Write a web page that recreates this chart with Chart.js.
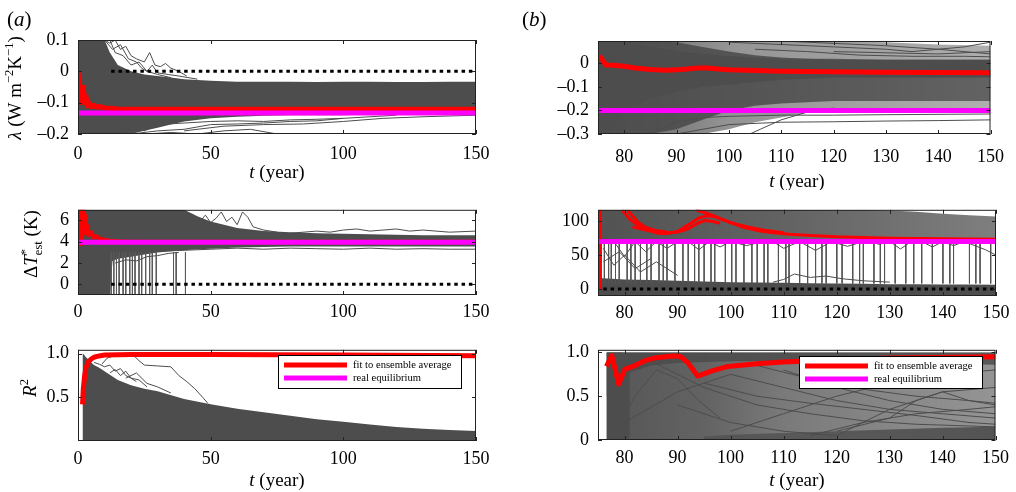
<!DOCTYPE html>
<html>
<head>
<meta charset="utf-8">
<script src="https://cdn.jsdelivr.net/npm/chart.js@4.4.1/dist/chart.umd.min.js"></script>
<style>
  html, body { margin: 0; padding: 0; background: #fff; }
  #fig { position: relative; width: 1016px; height: 492px; overflow: hidden; }
  #fig canvas { position: absolute; }
</style>
</head>
<body>
<div id="fig">
  <canvas id="a1" width="500" height="190" style="left:0;top:0"></canvas>
  <canvas id="b1" width="516" height="190" style="left:500px;top:0"></canvas>
  <canvas id="a2" width="500" height="140" style="left:0;top:190px"></canvas>
  <canvas id="b2" width="516" height="140" style="left:500px;top:190px"></canvas>
  <canvas id="a3" width="500" height="162" style="left:0;top:330px"></canvas>
  <canvas id="b3" width="516" height="162" style="left:500px;top:330px"></canvas>
</div>
<script>
const SERIF = "'Liberation Serif', 'Times New Roman', Times, serif";
const GREY = '#4d4d4d';
const RED = '#ff0000';
const MAGENTA = '#ff00ff';
const NONE = 'rgba(0,0,0,0)';

// tick labels
const xTicksA = [0, 50, 100, 150];
const xTicksB = [80, 90, 100, 110, 120, 130, 140, 150];
const lamTicksA = [-0.2, -0.1, 0, 0.1];
const lamTicksB = [-0.3, -0.2, -0.1, 0];
const tstTicksA = [0, 2, 4, 6];
const tstTicksB = [0, 50, 100];
const r2TicksA = [0.5, 1.0];
const r2TicksB = [0, 0.5, 1.0];
const legendLabels = ['fit to ensemble average', 'real equilibrium'];

// ---- (a) lambda
const lamYearsA = [0, 1, 2, 3, 4, 5, 6, 8, 10, 12, 15, 20, 25, 30, 35, 40, 50, 60, 70, 80, 90, 100, 110, 120, 130, 140, 150];
const lamHighA = [0.1, 0.1, 0.1, 0.1, 0.1, 0.1, 0.1, 0.1, 0.1, 0.06, 0.02, 0, -0.01, -0.015, -0.02, -0.025, -0.03, -0.033, -0.033, -0.033, -0.034, -0.033, -0.033, -0.034, -0.034, -0.033, -0.033];
const lamLowA = [-0.2, -0.2, -0.2, -0.2, -0.2, -0.2, -0.2, -0.2, -0.2, -0.2, -0.2, -0.2, -0.19, -0.18, -0.17, -0.16, -0.15, -0.145, -0.142, -0.14, -0.14, -0.14, -0.138, -0.136, -0.135, -0.134, -0.133];
const lamStrayA = [
  [[10, 12, 14, 16, 18, 20, 22, 25, 27, 29, 31, 33, 35, 38, 41], [0.1, 0.09, 0.1, 0.07, 0.08, 0.05, 0.04, 0.03, 0.06, 0.02, 0.015, 0.025, 0.01, 0, -0.015]],
  [[10, 13, 16, 19, 22, 24, 26, 28, 30, 34, 38, 45], [0.1, 0.07, 0.085, 0.04, 0.03, 0.01, 0, 0.02, -0.005, -0.01, -0.015, -0.025]],
  [[12, 14, 17, 20, 23, 26, 30, 35], [0.1, 0.06, 0.05, 0.02, 0.03, 0.0, -0.01, -0.02]],
  [[15, 20, 25, 30, 40, 50, 60, 70, 80, 90, 100, 110, 120], [-0.2, -0.18, -0.19, -0.17, -0.165, -0.16, -0.158, -0.16, -0.155, -0.153, -0.15, -0.145, -0.14]],
  [[20, 30, 40, 50, 60, 70, 80, 90, 100], [-0.2, -0.19, -0.185, -0.17, -0.168, -0.165, -0.16, -0.158, -0.15]],
  [[25, 35, 45, 55, 65, 75], [-0.2, -0.195, -0.2, -0.19, -0.185, -0.2]],
  [[40, 55, 70, 85, 100, 115, 130, 150], [-0.19, -0.175, -0.17, -0.168, -0.16, -0.15, -0.145, -0.14]]
];
const lamRedYearsA = [0, 0.5, 1, 1.5, 2, 2.5, 3, 3.5, 4, 5, 6, 7, 8, 10, 12, 15, 20, 30, 150];
const lamRedA = [0, -0.05, -0.1, -0.07, -0.05, -0.1, -0.08, -0.11, -0.1, -0.113, -0.108, -0.115, -0.112, -0.117, -0.118, -0.12, -0.121, -0.121, -0.121];
const lamEquilA = [-0.133, -0.133];

// ---- (b) lambda
const lamYearsB = [75, 77, 80, 85, 90, 95, 100, 105, 110, 115, 120, 130, 140, 150];
const lamOuterHighB = [0.095, 0.095, 0.095, 0.095, 0.095, 0.095, 0.095, 0.095, 0.095, 0.095, 0.095, 0.09, 0.08, 0.075];
const lamOuterLowB = [-0.3, -0.3, -0.3, -0.3, -0.3, -0.3, -0.28, -0.25, -0.23, -0.21, -0.2, -0.19, -0.19, -0.19];
const lamMidHighB = [0.095, 0.095, 0.095, 0.095, 0.09, 0.07, 0.05, 0.035, 0.025, 0.02, 0.02, 0.015, 0.015, 0.015];
const lamMidLowB = [-0.3, -0.3, -0.3, -0.3, -0.28, -0.24, -0.2, -0.18, -0.17, -0.165, -0.16, -0.16, -0.16, -0.16];
const lamCoreHighB = [0.095, 0.095, 0.09, 0.07, 0.05, 0.04, 0.03, 0.025, 0.02, 0.02, 0.015, 0.015, 0.015, 0.015];
const lamCoreLowB = [-0.3, -0.3, -0.2, -0.15, -0.12, -0.1, -0.09, -0.08, -0.07, -0.065, -0.06, -0.06, -0.06, -0.06];
const lamStrayB = [
  [[90, 95, 100, 110, 120, 130, 140, 150], [-0.3, -0.28, -0.26, -0.25, -0.248, -0.245, -0.243, -0.24]],
  [[85, 90, 95, 100, 110, 120, 130, 150], [-0.3, -0.25, -0.23, -0.225, -0.22, -0.22, -0.218, -0.215]],
  [[104, 106, 108, 110, 113, 116, 120], [-0.3, -0.28, -0.26, -0.24, -0.22, -0.2, -0.19]],
  [[100, 110, 120, 130, 135, 140, 145, 150], [0.09, 0.08, 0.07, 0.06, 0.05, 0.06, 0.07, 0.09]],
  [[110, 120, 130, 140, 150], [0.095, 0.085, 0.075, 0.06, 0.04]],
  [[120, 130, 140, 150], [0.05, 0.045, 0.04, 0.05]],
  [[105, 115, 125, 135, 145, 150], [0.06, 0.05, 0.035, 0.03, 0.03, 0.028]]
];
const lamRedYearsB = [75, 75.5, 76.5, 78, 80, 82, 85, 88, 91, 94, 96, 98, 100, 105, 110, 120, 130, 140, 150];
const lamRedB = [0.028, 0.025, -0.007, -0.008, -0.012, -0.02, -0.026, -0.029, -0.026, -0.02, -0.02, -0.024, -0.027, -0.03, -0.033, -0.036, -0.038, -0.039, -0.04];
const lamEquilB = [-0.2, -0.2];

// ---- (a) estimated equilibrium warming
const tstYearsA = [0, 2, 4, 6, 8, 10, 12, 13, 15, 20, 25, 30, 35, 40, 45, 50, 60, 70, 80, 90, 100, 110, 120, 130, 140, 150];
const tstHighA = [7, 7, 7, 7, 7, 7, 7, 7, 7, 7, 7, 7, 7, 7, 6.4, 5.9, 5.3, 5.0, 4.9, 4.8, 4.75, 4.7, 4.65, 4.6, 4.6, 4.6];
const tstLowA = [-1, -1, -1, -1, -1, -1, -1, 2.2, 2.4, 2.6, 2.8, 3.0, 3.1, 3.2, 3.3, 3.35, 3.45, 3.5, 3.55, 3.55, 3.55, 3.55, 3.55, 3.55, 3.55, 3.55];
const tstDropYearsA = [12.5, 13.5, 14.5, 15.5, 17, 18, 19.5, 20.5, 21.5, 23, 24, 25.5, 27, 28, 29.5, 36, 37, 40.5];
const tstStrayA = [
  [[36, 40, 43, 46, 48, 50, 52, 54, 56, 58, 60, 62, 64, 66, 70, 75], [5.5, 6.2, 6.6, 5.9, 6.5, 5.8, 6.2, 6.8, 5.9, 6.3, 5.6, 6.8, 6.3, 5.4, 5.1, 4.9]],
  [[80, 90, 95, 100, 105, 110, 115, 120, 125, 130, 140, 150], [4.8, 5.0, 4.9, 5.1, 5.2, 5.0, 5.1, 5.2, 5.0, 5.1, 4.9, 5.0]],
  [[30, 40, 50, 60, 70, 80, 90, 100, 110, 120, 130, 140, 150], [3.1, 3.2, 3.3, 3.4, 3.3, 3.4, 3.35, 3.3, 3.4, 3.3, 3.35, 3.3, 3.3]],
  [[14, 18, 22, 26, 30, 34, 38], [2.0, 2.3, 2.2, 2.6, 2.7, 2.9, 3.0]]
];
const tstRedYearsA = [1, 1.3, 1.6, 2, 2.3, 2.6, 3, 3.5, 4, 5, 6, 7, 8, 10, 12, 15, 20, 40, 150];
const tstRedA = [3.6, 7.5, 4.5, 7.5, 5.2, 6.5, 4.8, 5.5, 4.6, 4.9, 4.4, 4.5, 4.3, 4.2, 4.1, 4.05, 4.0, 4.0, 4.0];
const tstEquilA = [3.95, 3.95];

// ---- (b) estimated equilibrium warming
const tstYearsB = [75.1, 80, 85, 90, 95, 100, 105, 110, 115, 120, 125, 130, 135, 140, 145, 150];
const tstUpHighB = [117, 117, 117, 117, 117, 117, 117, 117, 117, 117, 117, 116, 114, 111, 109, 107];
const tstUpLowB = [72, 72, 72, 72, 72, 72, 72, 72, 72, 72, 72, 72, 72, 72, 72, 72];
const tstBaseHighB = [16, 14, 13, 12, 11, 10, 9.5, 9, 8.5, 8, 7.5, 7, 7, 6.5, 6.5, 6];
const tstBaseLowB = [-9, -9, -9, -9, -9, -9, -9, -9, -9, -9, -9, -9, -9, -9, -9, -9];
const tstDropYearsB = [75.6, 76.2, 77, 77.5, 78.3, 79, 80.5, 81.2, 82, 83, 84.2, 85, 86.5, 87.3, 88, 89.5, 91, 92, 93.2, 94, 95, 96.3, 97, 99, 100.2, 101, 102.5, 104, 105, 106.3, 107, 109, 110.4, 111, 113, 114.5, 116, 117.2, 118, 120, 121, 123, 124.3, 125, 127, 128.2, 129, 131, 133, 134.5, 136, 138, 140, 141.3, 142, 145, 146.2, 147, 149];
const tstStrayB = [
  [[78, 80, 82, 84, 86, 88, 90], [70, 48, 70, 55, 70, 60, 70]],
  [[92, 94, 96, 98, 100, 103, 106], [70, 58, 70, 62, 70, 64, 70]],
  [[108, 110, 113, 116, 119, 122, 125], [70, 60, 70, 57, 70, 63, 70]],
  [[126, 128, 130, 132, 134], [70, 66, 70, 59, 70]],
  [[136, 138, 140, 142, 144, 148, 150], [70, 62, 70, 64, 70, 58, 50]],
  [[108, 110, 112, 115, 118, 121, 125, 130], [10, 14, 22, 17, 19, 15, 12, 10]],
  [[76, 78, 80, 83, 86, 90], [60, 35, 50, 25, 40, 20]],
  [[76, 79, 82, 85], [40, 55, 30, 45]]
];
const tstRedSetsB = [
  [[79.5, 81, 83, 86, 88, 90, 92, 94, 95.5, 97, 99, 102, 106, 111, 115, 120, 130, 140, 150], [117, 103, 92, 83, 82, 85, 95, 105, 108, 107, 101, 92, 85, 81, 79, 77, 75, 74, 73.5]],
  [[81.5, 84, 87, 90, 92, 93.5, 95, 96.5, 98], [92, 87, 82, 84, 89, 96, 101, 100, 97]],
  [[80.5, 81.5, 82.5, 84, 86, 88], [117, 108, 99, 91, 86, 84]],
  [[93.5, 95, 96.5, 98, 100, 103, 106, 110], [117, 113, 109, 104, 98, 92, 87, 83]],
  [[75.4, 75.4], [0, 117]]
];
const tstEquilB = [70, 70];

// ---- (a) R^2
const r2YearsA = [1.7, 2, 2.5, 3, 4, 5, 6, 8, 10, 12, 15, 20, 25, 30, 40, 50, 60, 70, 80, 90, 100, 110, 120, 130, 140, 150];
const r2HighA = [1.0, 1.0, 0.98, 0.96, 0.93, 0.9, 0.87, 0.84, 0.8, 0.76, 0.7, 0.64, 0.6, 0.57, 0.48, 0.42, 0.37, 0.33, 0.29, 0.25, 0.22, 0.19, 0.16, 0.14, 0.125, 0.115];
const r2LowA = [0, 0, 0, 0, 0, 0, 0, 0, 0, 0, 0, 0, 0, 0, 0, 0, 0, 0, 0, 0, 0, 0, 0, 0, 0, 0];
const r2StrayA = [
  [[9, 11, 13, 17, 21, 23, 25, 30, 35, 38, 41, 44, 47, 49], [0.88, 0.95, 0.97, 0.98, 0.98, 0.92, 0.87, 0.86, 0.85, 0.75, 0.68, 0.6, 0.5, 0.43]],
  [[6, 8, 10, 12, 14, 16, 18, 20, 22], [0.9, 0.88, 0.85, 0.87, 0.8, 0.83, 0.75, 0.72, 0.68]],
  [[12, 14, 16, 18, 20, 23, 26], [0.78, 0.82, 0.75, 0.8, 0.72, 0.7, 0.62]],
  [[18, 22, 26, 30, 35], [0.72, 0.78, 0.66, 0.62, 0.55]]
];
const r2RedYearsA = [1.7, 2, 2.5, 3, 4, 5, 6, 8, 10, 20, 50, 100, 150];
const r2RedA = [0.42, 0.6, 0.75, 0.84, 0.91, 0.94, 0.96, 0.975, 0.985, 0.99, 0.99, 0.985, 0.977];

// ---- (b) R^2
const r2YearsB = [76.6, 78, 80, 85, 90, 95, 100, 110, 120, 130, 140, 150];
const r2HighB = [1.0, 1.0, 1.0, 1.0, 1.0, 1.0, 1.0, 1.0, 1.0, 1.0, 1.0, 1.0];
const r2LowB = [0, 0, 0, 0, 0, 0, 0, 0, 0, 0, 0, 0];
const r2CapLowB = [0.5, 0.6, 0.75, 0.85, 0.88, 0.89, 0.9, 0.9, 0.89, 0.88, 0.87, 0.86];
const r2EdgeYearsB = [76.6, 78, 79.5, 81];
const r2EdgeHighB = [1.0, 1.0, 1.0, 0.98];
const r2EdgeLowB = [0, 0, 0, 0.02];
const r2FloorYearsB = [95, 100, 110, 120, 130, 140, 150];
const r2FloorHighB = [0.04, 0.06, 0.08, 0.1, 0.12, 0.14, 0.15];
const r2FloorLowB = [0, 0, 0, 0, 0, 0, 0];
const r2StrayB = [
  [[80, 90, 100, 110, 120, 130, 140, 150], [0.2, 0.55, 0.75, 0.6, 0.45, 0.35, 0.3, 0.25]],
  [[85, 95, 105, 115, 125, 135, 150], [0.9, 0.6, 0.4, 0.3, 0.22, 0.18, 0.15]],
  [[100, 110, 120, 130, 140, 150], [0.1, 0.3, 0.5, 0.65, 0.75, 0.8]],
  [[90, 100, 110, 120, 130, 140, 150], [0.4, 0.2, 0.1, 0.05, 0.35, 0.55, 0.6]],
  [[110, 120, 130, 140, 150], [0.8, 0.6, 0.45, 0.35, 0.3]],
  [[120, 130, 135, 140, 145, 150], [0.1, 0.25, 0.45, 0.55, 0.45, 0.4]],
  [[95, 105, 115, 125, 135, 145, 150], [0.65, 0.5, 0.42, 0.35, 0.28, 0.2, 0.18]],
  [[78, 82, 86, 90, 94, 98], [0.05, 0.5, 0.8, 0.7, 0.45, 0.25]],
  [[105, 115, 125, 135, 145, 150], [0.85, 0.7, 0.58, 0.5, 0.45, 0.42]],
  [[115, 125, 135, 145, 150], [0.05, 0.2, 0.3, 0.35, 0.38]]
];
const r2RedYearsB = [76.6, 77.6, 78.9, 80.1, 82, 84, 86, 89, 90.5, 92, 93.8, 96.5, 99.5, 105, 110, 120, 130, 150];
const r2RedB = [0.84, 0.965, 0.64, 0.81, 0.85, 0.91, 0.94, 0.96, 0.955, 0.88, 0.73, 0.79, 0.84, 0.87, 0.89, 0.915, 0.935, 0.95];

// ---------- helpers ----------
function pts(xs, ys) { return xs.map((x, i) => ({ x: x, y: ys[i] })); }
function drops(xs, top, bottom) {
  const out = [];
  xs.forEach(x => { out.push({ x: x, y: top }, { x: x, y: bottom }, { x: x, y: null }); });
  return out;
}
// horizontal grey shade that fades along the time axis: stops = [[year, alpha], ...]
function shade(stops) {
  return (c) => {
    const chart = c.chart, a = chart.chartArea;
    if (!a) return GREY;
    const sx = chart.scales.x;
    const g = chart.ctx.createLinearGradient(a.left, 0, a.right, 0);
    stops.forEach(([yr, al]) => {
      const f = Math.min(1, Math.max(0, (sx.getPixelForValue(yr) - a.left) / (a.right - a.left)));
      g.addColorStop(f, 'rgba(77,77,77,' + al + ')');
    });
    return g;
  };
}
function band(xs, hi, lo, color, order) {
  return [
    { data: pts(xs, hi), borderColor: NONE, backgroundColor: color, borderWidth: 1, fill: '+1', order: order },
    { data: pts(xs, lo), borderColor: NONE, borderWidth: 1, fill: false, order: order }
  ];
}
function strays(list, color, width, order) {
  return list.map(([xs, ys]) => ({ data: pts(xs, ys), borderColor: color, borderWidth: width, fill: false, order: order }));
}
function line(xs, ys, color, width, order, extra) {
  return Object.assign({ data: pts(xs, ys), borderColor: color, borderWidth: width, fill: false, order: order,
    borderCapStyle: 'butt', borderJoinStyle: 'round' }, extra || {});
}
function fmt(v, dec) {
  if (Math.abs(v) < 1e-9) return '0';
  return (v < 0 ? '\u2013' : '') + Math.abs(v).toFixed(dec);
}

// rich text: segments [text, flags] where i = italic, ^ = sup, _ = sub, 0 = no advance
function drawRich(ctx, item) {
  const size = item.size;
  const parts = item.segs.map(([t, f = '']) => {
    const small = f.includes('^') || f.includes('_');
    const fs = small ? size * 0.66 : size;
    const font = (f.includes('i') ? 'italic ' : '') + fs + 'px ' + SERIF;
    ctx.font = font;
    const w = ctx.measureText(t).width;
    return { t, font, w, adv: f.includes('0') ? 0 : w,
      dy: f.includes('^') ? -size * 0.4 : (f.includes('_') ? size * 0.25 : 0) };
  });
  const total = parts.reduce((s, p) => s + p.adv, 0);
  ctx.save();
  ctx.translate(item.x, item.y);
  if (item.rot) ctx.rotate(item.rot);
  ctx.fillStyle = '#000';
  ctx.textBaseline = 'alphabetic';
  ctx.textAlign = 'left';
  let x = item.align === 'left' ? 0 : -total / 2;
  parts.forEach(p => { ctx.font = p.font; ctx.fillText(p.t, x, p.dy); x += p.adv; });
  ctx.restore();
}

const decor = {};
const decoPlugin = {
  id: 'deco',
  afterDatasetsDraw(chart) {
    const ctx = chart.ctx, a = chart.chartArea, sx = chart.scales.x, sy = chart.scales.y;
    ctx.save();
    ctx.strokeStyle = '#222';
    ctx.lineWidth = 1;
    ctx.strokeRect(a.left + 0.5, a.top + 0.5, a.right - a.left - 1, a.bottom - a.top - 1);
    ctx.beginPath();
    sx.ticks.forEach(t => {
      const x = Math.round(sx.getPixelForValue(t.value)) + 0.5;
      ctx.moveTo(x, a.bottom); ctx.lineTo(x, a.bottom - 4);
      ctx.moveTo(x, a.top); ctx.lineTo(x, a.top + 4);
    });
    sy.ticks.forEach(t => {
      const y = Math.round(sy.getPixelForValue(t.value)) + 0.5;
      ctx.moveTo(a.left, y); ctx.lineTo(a.left + 4, y);
      ctx.moveTo(a.right, y); ctx.lineTo(a.right - 4, y);
    });
    ctx.stroke();
    ctx.restore();
  },
  afterDraw(chart) {
    const d = decor[chart.canvas.id];
    const ctx = chart.ctx;
    if (d.legend) {
      const b = d.legend;
      ctx.save();
      ctx.fillStyle = '#fff';
      ctx.fillRect(b.x, b.y, b.w, b.h);
      ctx.strokeStyle = '#000';
      ctx.lineWidth = 1;
      ctx.strokeRect(b.x + 0.5, b.y + 0.5, b.w, b.h);
      const items = chart.data.datasets.filter(ds => legendLabels.includes(ds.label));
      items.forEach((ds, i) => {
        const y = b.y + 10 + i * 13;
        ctx.strokeStyle = ds.borderColor;
        ctx.lineWidth = 5;
        ctx.beginPath();
        ctx.moveTo(b.x + 6, y); ctx.lineTo(b.x + 69, y);
        ctx.stroke();
        ctx.fillStyle = '#000';
        ctx.font = '10.6px ' + SERIF;
        ctx.textBaseline = 'middle';
        ctx.fillText(ds.label, b.x + 75, y);
      });
      ctx.restore();
    }
    (d.texts || []).forEach(t => drawRich(ctx, t));
  }
};

function panel(id, o) {
  decor[id] = o;
  return new Chart(document.getElementById(id), {
    type: 'line',
    data: { datasets: o.datasets },
    options: {
      responsive: false,
      animation: false,
      devicePixelRatio: 1,
      events: [],
      layout: { padding: { top: o.padTop, right: o.padRight, left: 0, bottom: 0 } },
      datasets: { line: { pointRadius: 0, tension: 0, clip: 0, spanGaps: false } },
      plugins: { legend: { display: false }, tooltip: { enabled: false } },
      scales: {
        x: {
          type: 'linear', min: o.xMin, max: o.xMax,
          grid: { display: false, drawTicks: false }, border: { display: false },
          afterBuildTicks: s => { s.ticks = o.xTicks.map(v => ({ value: v })); },
          afterFit: s => { s.height = o.xAxisH; },
          ticks: { color: '#000', font: { family: SERIF, size: 18 }, padding: o.xPad, maxRotation: 0, autoSkip: false,
            callback: v => fmt(v, 0) }
        },
        y: {
          type: 'linear', min: o.yMin, max: o.yMax,
          grid: { display: false, drawTicks: false }, border: { display: false },
          afterBuildTicks: s => { s.ticks = o.yTicks.map(v => ({ value: v })); },
          afterFit: s => { s.width = o.yAxisW; },
          ticks: { color: '#000', font: { family: SERIF, size: 18 }, padding: 9, autoSkip: false,
            callback: v => fmt(v, o.yDec) }
        }
      }
    },
    plugins: [decoPlugin]
  });
}

const tYear = [['t', 'i'], [' (year)']];

// (a) top
panel('a1', {
  padTop: 40, padRight: 24, yAxisW: 78, xAxisH: 56, xPad: 9,
  xMin: 0, xMax: 150, xTicks: xTicksA, yMin: -0.2, yMax: 0.1, yTicks: lamTicksA, yDec: 1,
  datasets: [
    line([0, 150], lamEquilA, MAGENTA, 5, 1, { label: 'real equilibrium' }),
    line(lamRedYearsA, lamRedA, RED, 5, 2, { label: 'fit to ensemble average' }),
    line([12.5, 150], [0, 0], '#000', 3, 3, { borderDash: [3.5, 3.8] }),
    ...strays(lamStrayA, GREY, 1, 8),
    ...band(lamYearsA, lamHighA, lamLowA, GREY, 10)
  ],
  texts: [
    { x: 7, y: 26, size: 21, align: 'left', segs: [['('], ['a', 'i'], [')']] },
    { x: 21, y: 88, size: 19, rot: -Math.PI / 2, segs: [['\u03bb', 'i'], [' (W m'], ['\u22122', '^'], ['K'], ['\u22121', '^'], [')']] },
    { x: 277, y: 178, size: 19, segs: tYear }
  ]
});

// (b) top
panel('b1', {
  padTop: 41, padRight: 20, yAxisW: 98, xAxisH: 56, xPad: 12,
  xMin: 75, xMax: 150, xTicks: xTicksB, yMin: -0.3, yMax: 0.095, yTicks: lamTicksB, yDec: 1,
  datasets: [
    line([75, 150], lamEquilB, MAGENTA, 5, 1, { label: 'real equilibrium' }),
    line(lamRedYearsB, lamRedB, RED, 5, 2, { label: 'fit to ensemble average' }),
    ...strays(lamStrayB, GREY, 1, 8),
    ...band(lamYearsB, lamCoreHighB, lamCoreLowB, GREY, 9),
    ...band(lamYearsB, lamMidHighB, lamMidLowB, shade([[75, 0.95], [100, 0.9], [150, 0.78]]), 10),
    ...band(lamYearsB, lamOuterHighB, lamOuterLowB, shade([[75, 0.9], [100, 0.6], [150, 0.45]]), 11)
  ],
  texts: [
    { x: 22, y: 26, size: 21, align: 'left', segs: [['('], ['b', 'i'], [')']] },
    { x: 297, y: 187, size: 19, segs: tYear }
  ]
});

// (a) middle
panel('a2', {
  padTop: 12, padRight: 24, yAxisW: 78, xAxisH: 35, xPad: 6,
  xMin: 0, xMax: 150, xTicks: xTicksA, yMin: -1, yMax: 7, yTicks: tstTicksA, yDec: 0,
  datasets: [
    line([0, 150], tstEquilA, MAGENTA, 5, 1, { label: 'real equilibrium' }),
    line(tstRedYearsA, tstRedA, RED, 4, 2, { label: 'fit to ensemble average' }),
    line([12.5, 150], [0, 0], '#000', 3, 3, { borderDash: [3.5, 3.8] }),
    ...strays(tstStrayA, GREY, 1, 8),
    { data: drops(tstDropYearsA, 3.0, -1), borderColor: '#5a5a5a', borderWidth: 1, fill: false, order: 9 },
    ...band(tstYearsA, tstHighA, tstLowA, GREY, 10)
  ],
  texts: [
    { x: 37, y: 54, size: 19, rot: -Math.PI / 2, segs: [['\u0394'], ['T', 'i'], ['*', '^0'], ['est', '_'], [' (K)']] }
  ]
});

// (b) middle
panel('b2', {
  padTop: 13, padRight: 20, yAxisW: 98, xAxisH: 34, xPad: 6,
  xMin: 75, xMax: 150, xTicks: xTicksB, yMin: -10.5, yMax: 117, yTicks: tstTicksB, yDec: 0,
  datasets: [
    line([75, 150], tstEquilB, MAGENTA, 5, 1, { label: 'real equilibrium' }),
    ...tstRedSetsB.map(([xs, ys]) => line(xs, ys, RED, 3, 2)),
    line([76, 150], [0, 0], '#000', 3, 3, { borderDash: [3.5, 3.8] }),
    ...strays(tstStrayB, GREY, 1, 8),
    { data: drops(tstDropYearsB, 72, 8), borderColor: '#555', borderWidth: 1, fill: false, order: 9 },
    ...band(tstYearsB, tstBaseHighB, tstBaseLowB, GREY, 10),
    ...band(tstYearsB, tstUpHighB, tstUpLowB, shade([[75, 0.97], [110, 0.88], [150, 0.72]]), 10)
  ],
  texts: []
});

// (a) bottom
panel('a3', {
  padTop: 17, padRight: 24, yAxisW: 78, xAxisH: 51, xPad: 7,
  xMin: 0, xMax: 150, xTicks: xTicksA, yMin: 0, yMax: 1.045, yTicks: r2TicksA, yDec: 1,
  datasets: [
    line(r2RedYearsA, r2RedA, RED, 5, 2, { label: 'fit to ensemble average' }),
    { data: [], label: 'real equilibrium', borderColor: MAGENTA, borderWidth: 5, fill: false, order: 1 },
    ...strays(r2StrayA, GREY, 1, 8),
    ...band(r2YearsA, r2HighA, r2LowA, GREY, 10)
  ],
  legend: { x: 278, y: 25, w: 183, h: 33 },
  texts: [
    { x: 36, y: 58, size: 19, rot: -Math.PI / 2, segs: [['R', 'i'], ['2', '^']] },
    { x: 277, y: 156, size: 19, segs: tYear }
  ]
});

// (b) bottom
panel('b3', {
  padTop: 17, padRight: 20, yAxisW: 98, xAxisH: 52, xPad: 7,
  xMin: 75, xMax: 150, xTicks: xTicksB, yMin: 0, yMax: 1.03, yTicks: r2TicksB, yDec: 1,
  datasets: [
    line(r2RedYearsB, r2RedB, RED, 5, 2, { label: 'fit to ensemble average' }),
    { data: [], label: 'real equilibrium', borderColor: MAGENTA, borderWidth: 5, fill: false, order: 1 },
    ...strays(r2StrayB, GREY, 1, 8),
    ...band(r2EdgeYearsB, r2EdgeHighB, r2EdgeLowB, GREY, 9),
    ...band(r2FloorYearsB, r2FloorHighB, r2FloorLowB, shade([[95, 0.7], [150, 0.9]]), 9),
    ...band(r2YearsB, r2HighB, r2CapLowB, shade([[77, 0.95], [110, 0.9], [150, 0.85]]), 9),
    ...band(r2YearsB, r2HighB, r2LowB, shade([[77, 0.95], [95, 0.88], [110, 0.75], [150, 0.6]]), 10)
  ],
  legend: { x: 299, y: 26, w: 183, h: 32 },
  texts: [
    { x: 297, y: 156, size: 19, segs: tYear }
  ]
});
</script>
</body>
</html>
